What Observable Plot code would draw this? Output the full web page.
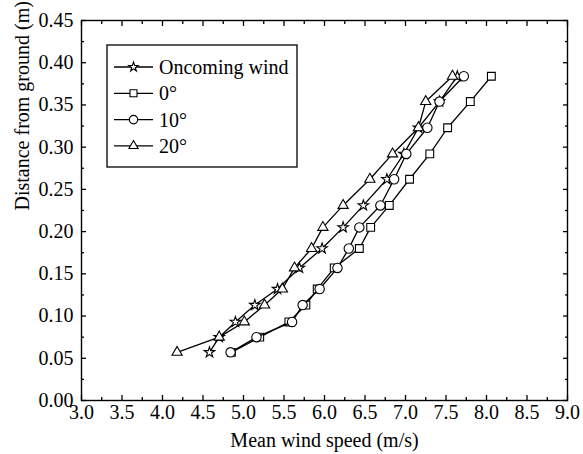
<!DOCTYPE html>
<html><head><meta charset="utf-8">
<script src="https://cdn.jsdelivr.net/npm/d3@7"></script>
<script src="https://cdn.jsdelivr.net/npm/@observablehq/plot@0.6"></script>
<style>
body{margin:0;background:#fff;}
#wrap{position:relative;width:583px;height:454px;}
#wrap svg{display:block;}
</style></head><body><div id="wrap"></div>
<script>
// Heights (m)
const heights = [0.057, 0.075, 0.093, 0.113, 0.132, 0.157, 0.180, 0.205, 0.231, 0.262, 0.292, 0.323, 0.354, 0.384];
// Mean wind speed (m/s) per series
const oncoming = [4.58, 4.70, 4.90, 5.14, 5.42, 5.69, 5.97, 6.23, 6.48, 6.77, 6.98, 7.16, 7.42, 7.64];
const deg0     = [4.85, 5.20, 5.56, 5.77, 5.91, 6.12, 6.43, 6.57, 6.80, 7.05, 7.30, 7.52, 7.80, 8.06];
const deg10    = [4.84, 5.16, 5.60, 5.73, 5.94, 6.16, 6.30, 6.43, 6.69, 6.86, 7.01, 7.27, 7.42, 7.72];
const deg20    = [4.18, 4.70, 5.01, 5.26, 5.48, 5.63, 5.84, 5.98, 6.23, 6.56, 6.84, 7.16, 7.25, 7.58];
const seriesNames = ["Oncoming wind", "0°", "10°", "20°"];
const seriesSymbols = ["star", "square", "circle", "triangle"];
const seriesRadius = [3.3, 4.4, 4.7, 3.8];
const xTicks = [3.0, 3.5, 4.0, 4.5, 5.0, 5.5, 6.0, 6.5, 7.0, 7.5, 8.0, 8.5, 9.0];
const xMinor = [3.25, 3.75, 4.25, 4.75, 5.25, 5.75, 6.25, 6.75, 7.25, 7.75, 8.25, 8.75];
const yTicks = [0.00, 0.05, 0.10, 0.15, 0.20, 0.25, 0.30, 0.35, 0.40, 0.45];
const yMinor = [0.025, 0.075, 0.125, 0.175, 0.225, 0.275, 0.325, 0.375, 0.425];
const xTitle = "Mean wind speed (m/s)";
const yTitle = "Distance from ground (m)";

const seriesValues = [oncoming, deg0, deg10, deg20];
const series = seriesValues.map((vals, s) => vals.map((v, i) => ({speed: v, height: heights[i], name: seriesNames[s]})));

const FONT = "Liberation Serif";
const blank = () => "";
const sw = 1.3;

const marks = [];
series.forEach((data, s) => {
  marks.push(Plot.line(data, {x: "speed", y: "height", stroke: "black", strokeWidth: sw}));
  marks.push(Plot.dot(data, {x: "speed", y: "height", symbol: () => seriesSymbols[s], r: seriesRadius[s], fill: "white", stroke: "black", strokeWidth: 1.1}));
});

const plot = Plot.plot({
  width: 583, height: 454,
  marginTop: 20, marginRight: 16, marginBottom: 54, marginLeft: 81,
  style: {fontFamily: FONT, fontSize: "20px", color: "black", background: "white"},
  x: {domain: [3, 9]},
  y: {domain: [0, 0.45]},
  symbol: {type: "identity"},
  marks: [
    ...marks,
    Plot.axisX(xTicks, {anchor: "bottom", tickSize: -5, tickPadding: 9, tickFormat: d3.format(".1f"), fontSize: 20, fontFamily: FONT, label: null, strokeWidth: sw}),
    Plot.axisX(xMinor, {anchor: "bottom", tickSize: -3, tickFormat: blank, label: null, strokeWidth: sw}),
    Plot.axisX(xTicks, {anchor: "top", tickSize: -5, tickFormat: blank, label: null, strokeWidth: sw}),
    Plot.axisX(xMinor, {anchor: "top", tickSize: -3, tickFormat: blank, label: null, strokeWidth: sw}),
    Plot.axisY(yTicks, {anchor: "left", tickSize: -5, tickPadding: 13, tickFormat: d3.format(".2f"), fontSize: 20, fontFamily: FONT, label: null, strokeWidth: sw}),
    Plot.axisY(yMinor, {anchor: "left", tickSize: -3, tickFormat: blank, label: null, strokeWidth: sw}),
    Plot.axisY(yTicks, {anchor: "right", tickSize: -5, tickFormat: blank, label: null, strokeWidth: sw}),
    Plot.axisY(yMinor, {anchor: "right", tickSize: -3, tickFormat: blank, label: null, strokeWidth: sw}),
    Plot.frame({stroke: "black", strokeWidth: 1.4}),
    Plot.text([xTitle], {text: d => d, frameAnchor: "bottom", dy: 40, lineAnchor: "middle", fontSize: 20, fontFamily: FONT}),
    Plot.text([yTitle], {text: d => d, frameAnchor: "left", dx: -59, rotate: -90, lineAnchor: "middle", fontSize: 20, fontFamily: FONT})
  ]
});
const wrap = document.getElementById("wrap");
wrap.appendChild(plot);

// Legend overlay
const lg = d3.create("svg").attr("width", 194).attr("height", 126)
  .style("position", "absolute").style("left", "106px").style("top", "44px");
lg.append("rect").attr("x", 1).attr("y", 1).attr("width", 190).attr("height", 122)
  .attr("fill", "white").attr("stroke", "black").attr("stroke-width", 1.3);
const symMap = {star: d3.symbolStar, square: d3.symbolSquare, circle: d3.symbolCircle, triangle: d3.symbolTriangle};
seriesNames.forEach((name, i) => {
  const cy = 23 + i * 26.3;
  const g = lg.append("g");
  g.append("line").attr("x1", 8).attr("x2", 47).attr("y1", cy).attr("y2", cy).attr("stroke", "black").attr("stroke-width", sw);
  const r = seriesRadius[i] * 0.9;
  g.append("path").attr("d", d3.symbol(symMap[seriesSymbols[i]], Math.PI * r * r)())
    .attr("transform", `translate(27.5,${cy})`).attr("fill", "white").attr("stroke", "black").attr("stroke-width", 1.1);
  g.append("text").attr("x", 53).attr("y", cy).attr("dy", "0.35em")
    .attr("font-family", FONT).attr("font-size", 20).text(name);
});
wrap.appendChild(lg.node());
</script></body></html>
